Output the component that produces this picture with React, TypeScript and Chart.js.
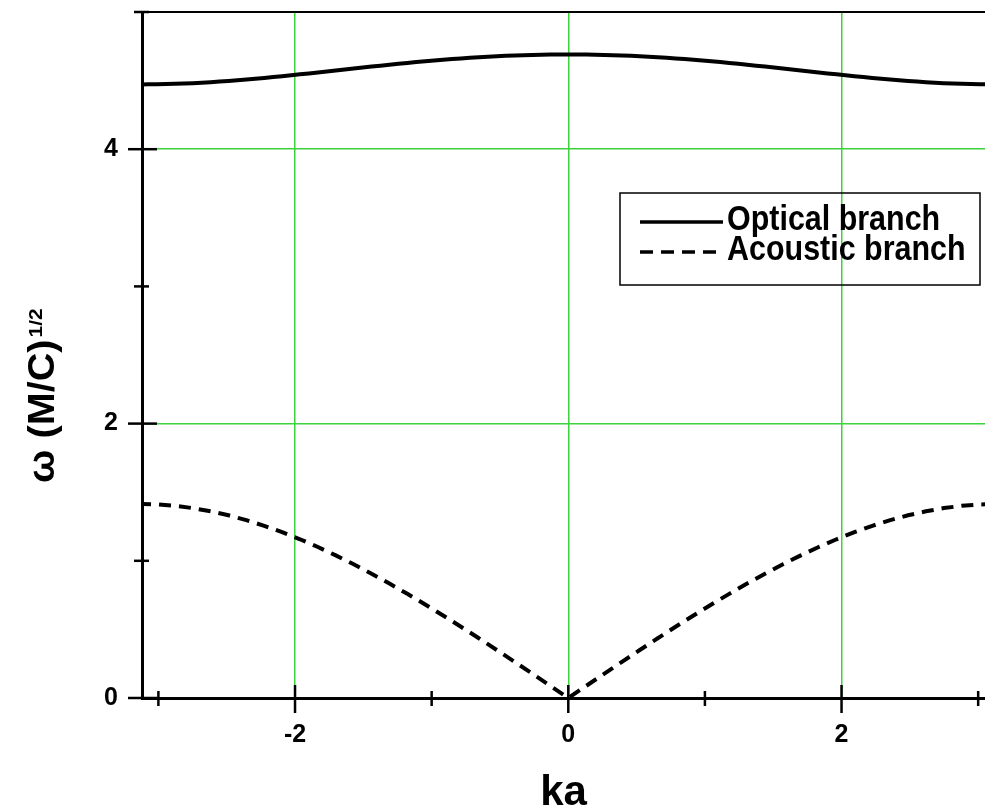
import { useEffect, useRef } from 'react';
import { Chart, registerables } from 'chart.js';

Chart.register(...registerables);

// ka values from -pi to pi
const kaValues = [
  -3.1416, -3.0107, -2.8798, -2.7489, -2.618, -2.4871, -2.3562, -2.2253, -2.0944, -1.9635,
  -1.8326, -1.7017, -1.5708, -1.4399, -1.309, -1.1781, -1.0472, -0.9163, -0.7854, -0.6545,
  -0.5236, -0.3927, -0.2618, -0.1309, 0,
  0.1309, 0.2618, 0.3927, 0.5236, 0.6545, 0.7854, 0.9163, 1.0472, 1.1781, 1.309,
  1.4399, 1.5708, 1.7017, 1.8326, 1.9635, 2.0944, 2.2253, 2.3562, 2.4871, 2.618,
  2.7489, 2.8798, 3.0107, 3.1416,
];

const opticalBranch = [
  4.4721, 4.4732, 4.4764, 4.4815, 4.4886, 4.4974, 4.5077, 4.5194, 4.532, 4.5455,
  4.5595, 4.5737, 4.588, 4.6021, 4.6156, 4.6286, 4.6407, 4.6517, 4.6616, 4.6701,
  4.6773, 4.683, 4.6871, 4.6896, 4.6904,
  4.6896, 4.6871, 4.683, 4.6773, 4.6701, 4.6616, 4.6517, 4.6407, 4.6286, 4.6156,
  4.6021, 4.588, 4.5737, 4.5595, 4.5455, 4.532, 4.5194, 4.5077, 4.4974, 4.4886,
  4.4815, 4.4764, 4.4732, 4.4721,
];

const acousticBranch = [
  1.4142, 1.4109, 1.4008, 1.3841, 1.361, 1.3316, 1.2962, 1.2551, 1.2086, 1.1569,
  1.1005, 1.0396, 0.9747, 0.9061, 0.8342, 0.7591, 0.6814, 0.6013, 0.5192, 0.4353,
  0.35, 0.2635, 0.1761, 0.0882, 0,
  0.0882, 0.1761, 0.2635, 0.35, 0.4353, 0.5192, 0.6013, 0.6814, 0.7591, 0.8342,
  0.9061, 0.9747, 1.0396, 1.1005, 1.1569, 1.2086, 1.2551, 1.2962, 1.3316, 1.361,
  1.3841, 1.4008, 1.4109, 1.4142,
];

const seriesLabels = ['Optical branch', 'Acoustic branch'];
const xAllTicks = [-3, -2, -1, 0, 1, 2, 3];
const xLabeledTicks = [-2, 0, 2];
const yAllTicks = [0, 1, 2, 3, 4, 5];
const yLabeledTicks = [0, 2, 4];
const xTitle = 'ka';
const yTitleMain = 'ω (M/C)';
const yTitleSup = '1/2';

const FONT = '"Liberation Sans", Arial, Helvetica, sans-serif';
const GRID_GREEN = '#3fd23f';
const NONE = 'rgba(0,0,0,0)';

const isLabeled = (v: number, list: number[]) => list.some((t) => Math.abs(t - v) < 1e-6);

const tickMarksPlugin = {
  id: 'crossTicks',
  afterDraw(chart: any) {
    const ctx = chart.ctx;
    const { left, right, top, bottom } = chart.chartArea;
    ctx.save();
    ctx.strokeStyle = '#000';
    // top frame line
    ctx.lineWidth = 2;
    ctx.beginPath();
    ctx.moveTo(left, top);
    ctx.lineTo(right, top);
    ctx.stroke();
    ctx.lineWidth = 2.5;
    const xs = chart.scales.x;
    xs.ticks.forEach((t: any) => {
      const px = xs.getPixelForValue(t.value);
      const major = isLabeled(t.value, xLabeledTicks);
      const up = major ? 13 : 7;
      const down = major ? 15 : 8;
      ctx.beginPath();
      ctx.moveTo(px, bottom - up);
      ctx.lineTo(px, bottom + down);
      ctx.stroke();
    });
    const ys = chart.scales.y;
    ys.ticks.forEach((t: any) => {
      const py = ys.getPixelForValue(t.value);
      const major = isLabeled(t.value, yLabeledTicks);
      const out = major ? 14 : 8;
      const inn = major ? 15 : 7;
      ctx.beginPath();
      ctx.moveTo(left - out, py);
      ctx.lineTo(left + inn, py);
      ctx.stroke();
    });
    ctx.restore();
  },
};

const yTitlePlugin = {
  id: 'yTitleSup',
  afterDraw(chart: any) {
    const ctx = chart.ctx;
    const o = chart.options.plugins.yTitleSup;
    ctx.save();
    ctx.translate(o.baselineX, o.startY);
    ctx.rotate(-Math.PI / 2);
    ctx.scale(o.stretch, 1);
    ctx.fillStyle = '#000';
    ctx.textAlign = 'left';
    ctx.textBaseline = 'alphabetic';
    ctx.font = `bold ${o.size}px ${FONT}`;
    ctx.fillText(o.main, 0, 0);
    const w = ctx.measureText(o.main).width;
    ctx.font = `bold ${o.supSize}px ${FONT}`;
    ctx.fillText(o.sup, w + 2, -o.raise);
    ctx.restore();
  },
};

const boxLegendPlugin = {
  id: 'boxLegend',
  afterDraw(chart: any) {
    const ctx = chart.ctx;
    const o = chart.options.plugins.boxLegend;
    ctx.save();
    ctx.strokeStyle = '#000';
    ctx.lineWidth = 1.5;
    ctx.strokeRect(o.x, o.y, o.w, o.h);
    chart.data.datasets.forEach((ds: any, i: number) => {
      const cy = o.y + o.firstRow + i * o.rowGap;
      ctx.beginPath();
      ctx.setLineDash(ds.borderDash ? o.legendDash : []);
      ctx.lineWidth = 3.5;
      ctx.moveTo(o.x + o.lineStart, cy);
      ctx.lineTo(o.x + o.lineStart + o.lineLen, cy);
      ctx.stroke();
      ctx.setLineDash([]);
      ctx.save();
      ctx.translate(o.x + o.textStart, cy + o.baselineShift);
      ctx.scale(o.textScaleX, 1);
      ctx.font = `bold ${o.size}px ${FONT}`;
      ctx.fillStyle = '#000';
      ctx.textBaseline = 'alphabetic';
      ctx.textAlign = 'left';
      ctx.fillText(ds.label, 0, 0);
      ctx.restore();
    });
    ctx.restore();
  },
};

export default function App() {
  const ref = useRef<HTMLCanvasElement | null>(null);
  useEffect(() => {
    if (!ref.current) return;
    const chart = new Chart(ref.current, {
      type: 'line',
      data: {
        datasets: [
          {
            label: seriesLabels[0],
            data: kaValues.map((x, i) => ({ x, y: opticalBranch[i] })),
            borderColor: '#000',
            backgroundColor: '#000',
            borderWidth: 4,
            pointRadius: 0,
            tension: 0.2,
            fill: false,
          },
          {
            label: seriesLabels[1],
            data: kaValues.map((x, i) => ({ x, y: acousticBranch[i] })),
            borderColor: '#000',
            backgroundColor: '#000',
            borderWidth: 4,
            borderDash: [12, 8],
            pointRadius: 0,
            tension: 0,
            fill: false,
          },
        ],
      },
      options: {
        responsive: false,
        animation: false,
        layout: { padding: { top: 12, left: 0, right: 0, bottom: 0 } },
        scales: {
          x: {
            type: 'linear',
            min: -3.12,
            max: 3.05,
            afterBuildTicks: (s: any) => {
              s.ticks = xAllTicks.map((v) => ({ value: v }));
            },
            afterFit: (s: any) => {
              s.height = 114;
              s.paddingLeft = 0;
              s.paddingRight = 0;
            },
            ticks: {
              autoSkip: false,
              maxRotation: 0,
              minRotation: 0,
              padding: 22,
              color: '#000',
              font: { family: FONT, size: 25, weight: 'bold' },
              callback: (v: any) => (isLabeled(Number(v), xLabeledTicks) ? String(v) : ''),
            },
            grid: {
              color: (c: any) => (c.tick && isLabeled(c.tick.value, xLabeledTicks) ? GRID_GREEN : NONE),
              lineWidth: 1.5,
              drawTicks: false,
            },
            border: { color: '#000', width: 3 },
            title: {
              display: true,
              text: xTitle,
              color: '#000',
              font: { family: FONT, size: 42, weight: 'bold', lineHeight: 1 },
              padding: { top: 0, bottom: -2 },
            },
          },
          y: {
            type: 'linear',
            min: 0,
            max: 5,
            afterBuildTicks: (s: any) => {
              s.ticks = yAllTicks.map((v) => ({ value: v }));
            },
            afterFit: (s: any) => {
              s.width = 142;
              s.paddingTop = 0;
              s.paddingBottom = 0;
            },
            ticks: {
              autoSkip: false,
              padding: 24,
              color: '#000',
              font: { family: FONT, size: 25, weight: 'bold' },
              callback: (v: any) => (isLabeled(Number(v), yLabeledTicks) ? String(v) : ''),
            },
            grid: {
              color: (c: any) => (c.tick && isLabeled(c.tick.value, yLabeledTicks) ? GRID_GREEN : NONE),
              lineWidth: 1.5,
              drawTicks: false,
            },
            border: { color: '#000', width: 3 },
          },
        },
        plugins: {
          legend: { display: false },
          tooltip: { enabled: false },
          yTitleSup: {
            main: yTitleMain,
            sup: yTitleSup,
            size: 36,
            supSize: 19,
            raise: 12,
            stretch: 1.1,
            baselineX: 54,
            startY: 483,
          },
          boxLegend: {
            x: 620,
            y: 193,
            w: 360,
            h: 92,
            firstRow: 29,
            rowGap: 30,
            lineStart: 20,
            lineLen: 83,
            textStart: 107,
            baselineShift: 8,
            size: 35,
            textScaleX: 0.87,
            legendDash: [13, 8],
          },
        } as any,
      },
      plugins: [tickMarksPlugin, yTitlePlugin, boxLegendPlugin],
    } as any);
    return () => chart.destroy();
  }, []);
  return (
    <canvas
      ref={ref}
      width={985}
      height={812}
      style={{ position: 'absolute', left: 0, top: 0, width: 985, height: 812 }}
    />
  );
}
